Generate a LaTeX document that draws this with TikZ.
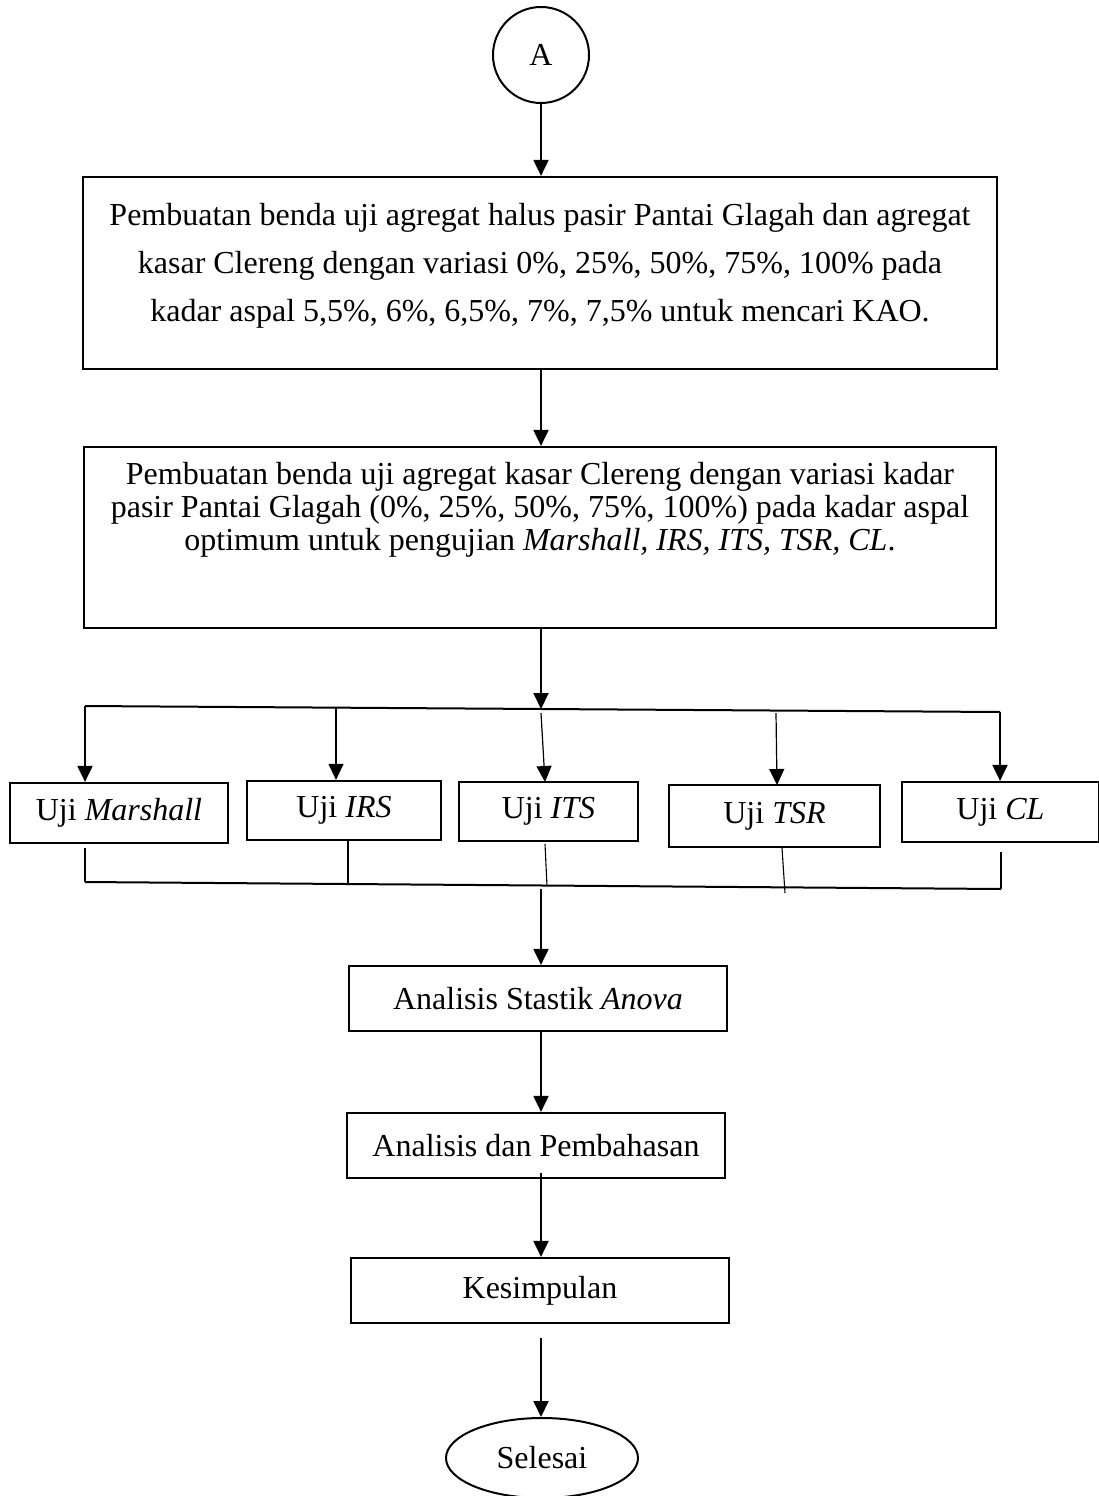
\documentclass[tikz,border=0pt]{standalone}
\usepackage{fontspec}
\setmainfont{Liberation Serif}
\usetikzlibrary{arrows.meta,shapes.geometric}
\begin{document}
\begin{tikzpicture}[x=1pt,y=-1pt,
  every node/.style={font=\fontsize{32}{36}\selectfont},
  box/.style={draw, line width=2.2pt, inner sep=0pt, align=center},
  arr/.style={line width=2pt, -{Triangle[length=16pt,width=15pt]}},
  thinarr/.style={line width=1.2pt, -{Triangle[length=16pt,width=15pt]}},
  ln/.style={line width=2pt},
  thinln/.style={line width=1.1pt}]
\useasboundingbox (0,0) rectangle (1099,1496);

% start connector
\node[circle, draw, line width=2pt, minimum size=96pt, inner sep=0pt] (A) at (541,55) {A};

% box 1
\node[box, minimum width=914pt, minimum height=192pt] (b1) at (540,273) {};
\node[align=center, font=\fontsize{32}{48}\selectfont] (b1t) at (540,266)
  {Pembuatan benda uji agregat halus pasir Pantai Glagah dan agregat\\
   kasar Clereng dengan variasi 0\%, 25\%, 50\%, 75\%, 100\% pada\\
   kadar aspal 5,5\%, 6\%, 6,5\%, 7\%, 7,5\% untuk mencari KAO.};

% box 2
\node[box, minimum width=912pt, minimum height=181pt] (b2) at (540,537.5) {};
\node[align=center, font=\fontsize{32}{33}\selectfont] (b2t) at (540,510)
  {Pembuatan benda uji agregat kasar Clereng dengan variasi kadar\\
   pasir Pantai Glagah (0\%, 25\%, 50\%, 75\%, 100\%) pada kadar aspal\\
   optimum untuk pengujian \textit{Marshall, IRS, ITS, TSR, CL}.};

% test boxes
\node[box, minimum width=218pt, minimum height=60pt] (m)   at (119,813)   {Uji \textit{Marshall}};
\node[box, minimum width=194pt, minimum height=59pt] (irs) at (344,810.5) {Uji \textit{IRS}};
\node[box, minimum width=179pt, minimum height=59pt] (its) at (548.5,811.5) {Uji \textit{ITS}};
\node[box, minimum width=211pt, minimum height=62pt] (tsr) at (774.5,816) {Uji \textit{TSR}};
\node[box, minimum width=197pt, minimum height=60pt] (cl)  at (1000.5,812) {Uji \textit{CL}};

% lower chain
\node[box, minimum width=378pt, minimum height=65pt] (an)  at (538,998.5)  {Analisis Stastik \textit{Anova}};
\node[box, minimum width=378pt, minimum height=65pt] (adp) at (536,1145.5) {Analisis dan Pembahasan};
\node[box, minimum width=378pt, minimum height=65pt] (kes) at (540,1290.5) {Kesimpulan};
\node[ellipse, draw, line width=2pt, minimum width=192pt, minimum height=80pt, inner sep=0pt] (sel) at (542,1458) {Selesai};

% distribution coordinates
\coordinate (tL) at (85,706);
\coordinate (tR) at (1000,712);
\coordinate (tM) at (541,709);
\coordinate (tI) at (336,708);
\coordinate (tT) at (541,713);
\coordinate (tS) at (776,713);
\coordinate (bL) at (85,882);
\coordinate (bR) at (1001,889);
\coordinate (bI) at (348,884);
\coordinate (bT) at (547,886);
\coordinate (bS) at (785,893);
\coordinate (bJ) at (541,889);

% connectors
\draw[arr] (A.south) -- (A.south |- b1.north);
\draw[arr] (b1.south -| A) -- (b2.north -| A);
\draw[arr] (b2.south -| A) -- (tM);
\draw[ln] (tL) -- (tR);
\draw[arr] (tL) -- (tL |- m.north);
\draw[thinarr] (tI) -- (tI |- irs.north);
\draw[thinarr] (tT) -- (545,782);
\draw[thinarr] (tS) -- (777,785);
\draw[arr] (tR) -- (tR |- cl.north);

\draw[ln] (85,848) -- (bL);
\draw[thinln] (348,840) -- (bI);
\draw[thinln] (545,844) -- (bT);
\draw[thinln] (782,848) -- (bS);
\draw[ln] (1001,852) -- (bR);
\draw[ln] (bL) -- (bR);

\draw[arr] (bJ) -- (bJ |- an.north);
\draw[arr] (an.south -| A) -- (adp.north -| A);
\draw[arr] (541,1173) -- (kes.north -| A);
\draw[arr] (541,1338) -- (sel.north -| A);
\end{tikzpicture}
\end{document}
